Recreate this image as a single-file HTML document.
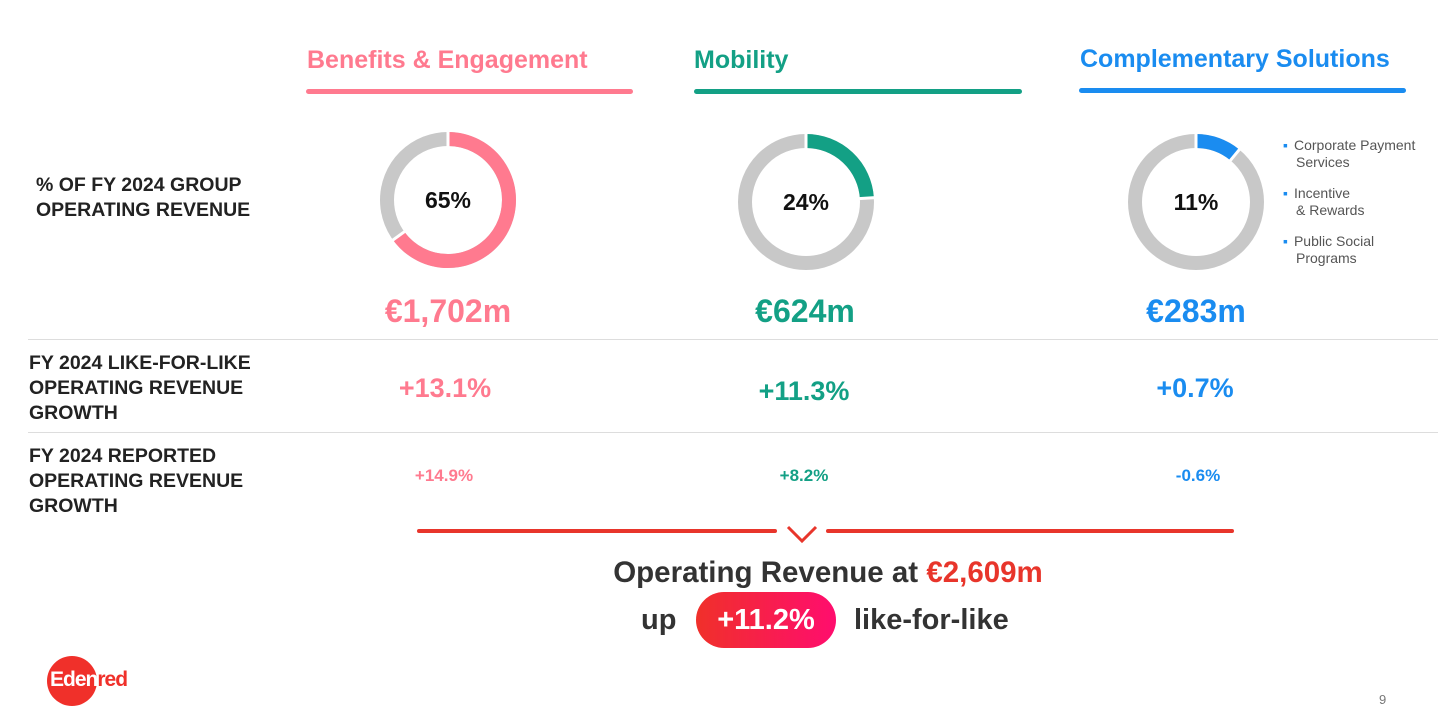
<!DOCTYPE html>
<html><head><meta charset="utf-8"><style>
body{margin:0;width:1456px;height:726px;background:#fff;font-family:"Liberation Sans",sans-serif;overflow:hidden;position:relative}
.a{position:absolute;white-space:nowrap}
.hdr{font-weight:bold;font-size:25px}
.lbl{font-weight:bold;font-size:19.5px;color:#222;line-height:25px}
.big{font-weight:bold;font-size:32px}
.mid{font-weight:bold;font-size:27px}
.sm{font-weight:bold;font-size:17px}
.leg{font-size:14px;color:#555;line-height:17px}
</style></head><body>
<div class="a hdr" style="left:307px;top:46px;color:#ff7a8f">Benefits &amp; Engagement</div>
<div class="a" style="left:306px;top:89px;width:327px;height:5px;background:#ff7a8f;border-radius:3px"></div>
<div class="a hdr" style="left:694px;top:46px;color:#13a085">Mobility</div>
<div class="a" style="left:694px;top:89px;width:328px;height:5px;background:#13a085;border-radius:3px"></div>
<div class="a hdr" style="left:1080px;top:45px;color:#1a8cf0">Complementary Solutions</div>
<div class="a" style="left:1079px;top:88px;width:327px;height:5px;background:#1a8cf0;border-radius:3px"></div>

<div class="a lbl" style="left:36px;top:173px">% OF FY 2024 GROUP<br>OPERATING REVENUE</div>
<div class="a lbl" style="left:29px;top:351px">FY 2024 LIKE-FOR-LIKE<br>OPERATING REVENUE<br>GROWTH</div>
<div class="a lbl" style="left:29px;top:444px">FY 2024 REPORTED<br>OPERATING REVENUE<br>GROWTH</div>

<svg class="a" style="left:0;top:0" width="1456" height="726" id="svg"></svg>

<div class="a" style="left:28px;top:339px;width:1410px;height:1px;background:#ddd"></div>
<div class="a" style="left:28px;top:432px;width:1410px;height:1px;background:#ddd"></div>

<div class="a big" style="left:448px;top:293px;transform:translateX(-50%);color:#ff7a8f">€1,702m</div>
<div class="a big" style="left:805px;top:293px;transform:translateX(-50%);color:#13a085">€624m</div>
<div class="a big" style="left:1196px;top:293px;transform:translateX(-50%);color:#1a8cf0">€283m</div>

<div class="a mid" style="left:445px;top:373px;transform:translateX(-50%);color:#ff7a8f">+13.1%</div>
<div class="a mid" style="left:804px;top:376px;transform:translateX(-50%);color:#13a085">+11.3%</div>
<div class="a mid" style="left:1195px;top:373px;transform:translateX(-50%);color:#1a8cf0">+0.7%</div>

<div class="a sm" style="left:444px;top:466px;transform:translateX(-50%);color:#ff7a8f">+14.9%</div>
<div class="a sm" style="left:804px;top:466px;transform:translateX(-50%);color:#13a085">+8.2%</div>
<div class="a sm" style="left:1198px;top:466px;transform:translateX(-50%);color:#1a8cf0">-0.6%</div>

<div class="a leg" style="left:1283px;top:137px">
<div style="margin-bottom:14px"><span style="color:#1a8cf0;margin-right:6px">▪</span>Corporate Payment<br><span style="padding-left:13px">Services</span></div>
<div style="margin-bottom:14px"><span style="color:#1a8cf0;margin-right:6px">▪</span>Incentive<br><span style="padding-left:13px">&amp; Rewards</span></div>
<div><span style="color:#1a8cf0;margin-right:6px">▪</span>Public Social<br><span style="padding-left:13px">Programs</span></div>
</div>

<div class="a" style="left:417px;top:529px;width:360px;height:4px;background:#e8352b;border-radius:2px"></div>
<div class="a" style="left:826px;top:529px;width:408px;height:4px;background:#e8352b;border-radius:2px"></div>
<svg class="a" style="left:786px;top:524px" width="34" height="22"><polyline points="2,3 16,17 30,3" fill="none" stroke="#e8352b" stroke-width="3"/></svg>

<div class="a" style="left:828px;top:556px;transform:translateX(-50%);font-weight:bold;font-size:29.5px;color:#333">Operating Revenue at <span style="color:#e8352b">€2,609m</span></div>
<div class="a" style="left:641px;top:604px;font-weight:bold;font-size:29px;color:#333">up</div>
<div class="a" style="left:696px;top:592px;width:140px;height:56px;border-radius:28px;background:linear-gradient(90deg,#f0302a,#ff0d6e);color:#fff;font-weight:bold;font-size:29px;text-align:center;line-height:56px">+11.2%</div>
<div class="a" style="left:854px;top:604px;font-weight:bold;font-size:29px;color:#333">like-for-like</div>

<div class="a" style="left:47px;top:656px;width:50px;height:50px;border-radius:50%;background:#f0302a"></div>
<div class="a" style="left:50px;top:668px;font-weight:bold;font-size:21px;color:#fff;letter-spacing:-1px">Eden<span style="color:#f0302a">red</span></div>
<div class="a" style="left:1379px;top:692px;font-size:13px;color:#777">9</div>

<script>
const categories=['Benefits & Engagement','Mobility','Complementary Solutions'];
const shares=[65,24,11];
const colors=['#ff7a8f','#13a085','#1a8cf0'];
const centersX=[448,806,1196];
const centersY=[200,202,202];
const svg=document.getElementById('svg');
const NS='http://www.w3.org/2000/svg';
const R=61,W=14;
function pt(cx,cy,a){return [cx+R*Math.sin(a),cy-R*Math.cos(a)];}
shares.forEach((v,i)=>{
  const cx=centersX[i],cy=centersY[i];
  const bg=document.createElementNS(NS,'circle');
  bg.setAttribute('cx',cx);bg.setAttribute('cy',cy);bg.setAttribute('r',R);
  bg.setAttribute('fill','none');bg.setAttribute('stroke','#c8c8c8');bg.setAttribute('stroke-width',W);
  
  
  svg.appendChild(bg);
  const a=v/100*2*Math.PI;
  const [x0,y0]=pt(cx,cy,0),[x1,y1]=pt(cx,cy,a);
  const p=document.createElementNS(NS,'path');
  p.setAttribute('d',`M${x0},${y0} A${R},${R} 0 ${v>50?1:0} 1 ${x1},${y1}`);
  p.setAttribute('fill','none');p.setAttribute('stroke',colors[i]);p.setAttribute('stroke-width',W);
  
  
  svg.appendChild(p);
  [[0],[a]].forEach(([ang])=>{
    const l=document.createElementNS(NS,'line');
    const s=Math.sin(ang),c=Math.cos(ang);
    l.setAttribute('x1',cx+(R-W/2-1)*s);l.setAttribute('y1',cy-(R-W/2-1)*c);
    l.setAttribute('x2',cx+(R+W/2+1)*s);l.setAttribute('y2',cy-(R+W/2+1)*c);
    l.setAttribute('stroke','#fff');l.setAttribute('stroke-width',3);
    
    
    svg.appendChild(l);
  });
  const t=document.createElementNS(NS,'text');
  t.setAttribute('x',cx);t.setAttribute('y',cy+8);t.setAttribute('text-anchor','middle');
  t.setAttribute('font-family','Liberation Sans, sans-serif');t.setAttribute('font-weight','bold');t.setAttribute('font-size','23');
  t.setAttribute('fill','#111');t.textContent=v+'%';
  
  
  svg.appendChild(t);
});
</script>
</body></html>
